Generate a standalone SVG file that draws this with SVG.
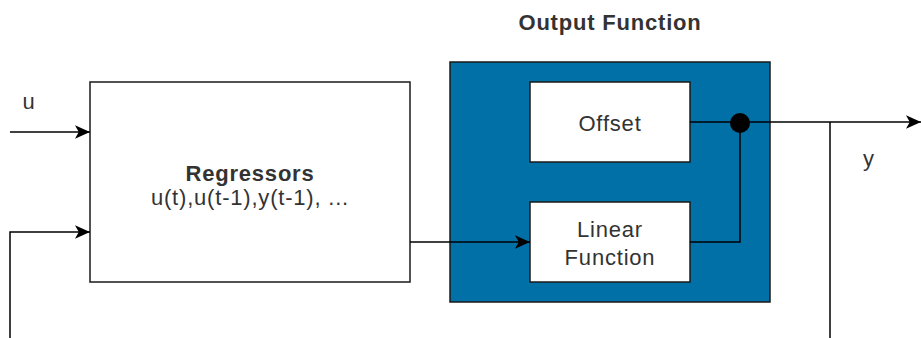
<svg xmlns="http://www.w3.org/2000/svg" width="921" height="338" viewBox="0 0 921 338">
<defs>
<style>
.box{fill:#fff;stroke:#1a1a1a;stroke-width:1.5}
.ln{fill:none;stroke:#000;stroke-width:1.5}
text{font-family:"Liberation Sans",Arial,sans-serif;font-size:22px;letter-spacing:0.8px;fill:#333;text-anchor:middle}
.b{font-weight:bold}
</style>
<marker id="ar" viewBox="0 0 10 10" refX="10" refY="5" markerWidth="15" markerHeight="15" markerUnits="userSpaceOnUse" orient="auto">
<path d="M0,0.5 L10,5 L0,9.5 L2.5,5 Z" fill="#000"/>
</marker>
</defs>
<rect width="921" height="338" fill="#fff"/>
<g id="output-function">
<rect x="450" y="62" width="320" height="240" fill="#0070a6" stroke="#1a1a1a" stroke-width="1.5"/>
<text class="b" x="610" y="30">Output Function</text>
</g>
<g id="regressors">
<rect class="box" x="90" y="82" width="320" height="200"/>
<text class="b" x="250" y="181">Regressors</text>
<text x="250" y="205">u(t),u(t-1),y(t-1), ...</text>
</g>
<g id="offset">
<rect class="box" x="530" y="82" width="160" height="80"/>
<text x="610" y="131">Offset</text>
</g>
<g id="linear">
<rect class="box" x="530" y="202" width="160" height="80"/>
<text x="610" y="237">Linear</text>
<text x="610" y="265">Function</text>
</g>
<g id="connectors">
<path class="ln" d="M10,132 L90,132" marker-end="url(#ar)"/>
<path class="ln" d="M10,338 L10,232 L90,232" marker-end="url(#ar)"/>
<path class="ln" d="M410,242 L530,242" marker-end="url(#ar)"/>
<path class="ln" d="M690,242 L740,242 L740,122"/>
<path class="ln" d="M690,122 L921,122" marker-end="url(#ar)"/>
<path class="ln" d="M830,122 L830,338"/>
<circle cx="740" cy="123" r="10" fill="#000"/>
<text x="29" y="109">u</text>
<text x="869" y="166">y</text>
</g>
</svg>
